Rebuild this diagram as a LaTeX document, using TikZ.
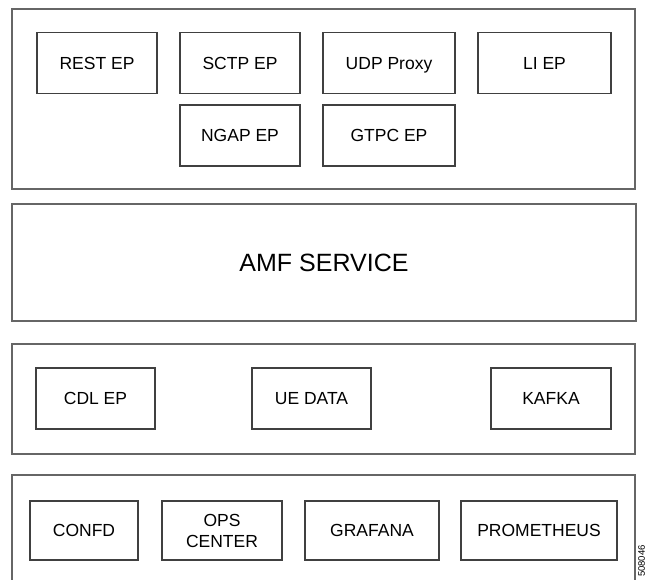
\documentclass[tikz,border=0pt]{standalone}
\usepackage{fontspec}
\setmainfont{Liberation Sans}
\begin{document}
\begin{tikzpicture}[x=1pt,y=-1pt,
	panel/.style={draw=black!60, line width=1.3pt, inner sep=0pt},
	epbox/.style={draw=black!75, line width=1.3pt, inner sep=0pt, align=center,
		minimum height=61pt, text depth=0pt, font=\fontsize{17.5}{18}\selectfont}]
\useasboundingbox (0,0) rectangle (650,579);
\clip (0,0) rectangle (650,579);

% layers
\node[panel, minimum width=623pt, minimum height=180pt] (eplayer) at (323.5,99) {};
\node[panel, minimum width=624pt, minimum height=117pt, font=\fontsize{25}{28}\selectfont] (amf) at (324,262.5) {AMF SERVICE};
\node[panel, minimum width=623pt, minimum height=110pt] (datalayer) at (323.5,399) {};
\node[panel, minimum width=623pt, minimum height=150pt] (opslayer) at (323.5,550) {};

% endpoints
\node[epbox, minimum width=120pt] (rest) at (97,63) {REST EP};
\node[epbox, minimum width=120pt] (sctp) at (240,63) {SCTP EP};
\node[epbox, minimum width=132pt] (udp) at (389,63) {UDP Proxy};
\node[epbox, minimum width=133pt] (li) at (544.5,63) {LI EP};
\node[epbox, minimum width=120pt] (ngap) at (240,135.5) {NGAP EP};
\node[epbox, minimum width=132pt] (gtpc) at (389,135.5) {GTPC EP};

% data
\node[epbox, minimum width=119pt] (cdl) at (95.5,398.5) {CDL EP};
\node[epbox, minimum width=119pt] (uedata) at (311.5,398.5) {UE DATA};
\node[epbox, minimum width=120pt] (kafka) at (551,398.5) {KAFKA};

% ops
\node[epbox, minimum width=108pt, minimum height=59pt] (confd) at (84,530.5) {CONFD};
\node[epbox, minimum width=120pt, minimum height=59pt] (opscenter) at (222,530.5) {OPS\\[3pt]CENTER};
\node[epbox, minimum width=134pt, minimum height=59pt] (grafana) at (372,530.5) {GRAFANA};
\node[epbox, minimum width=156pt, minimum height=59pt] (prometheus) at (539,530.5) {PROMETHEUS};

\node[rotate=90, anchor=east, inner sep=0pt, font=\fontsize{9.5}{10}\selectfont] (figid) at (641.5,545) {508046};
\end{tikzpicture}
\end{document}
